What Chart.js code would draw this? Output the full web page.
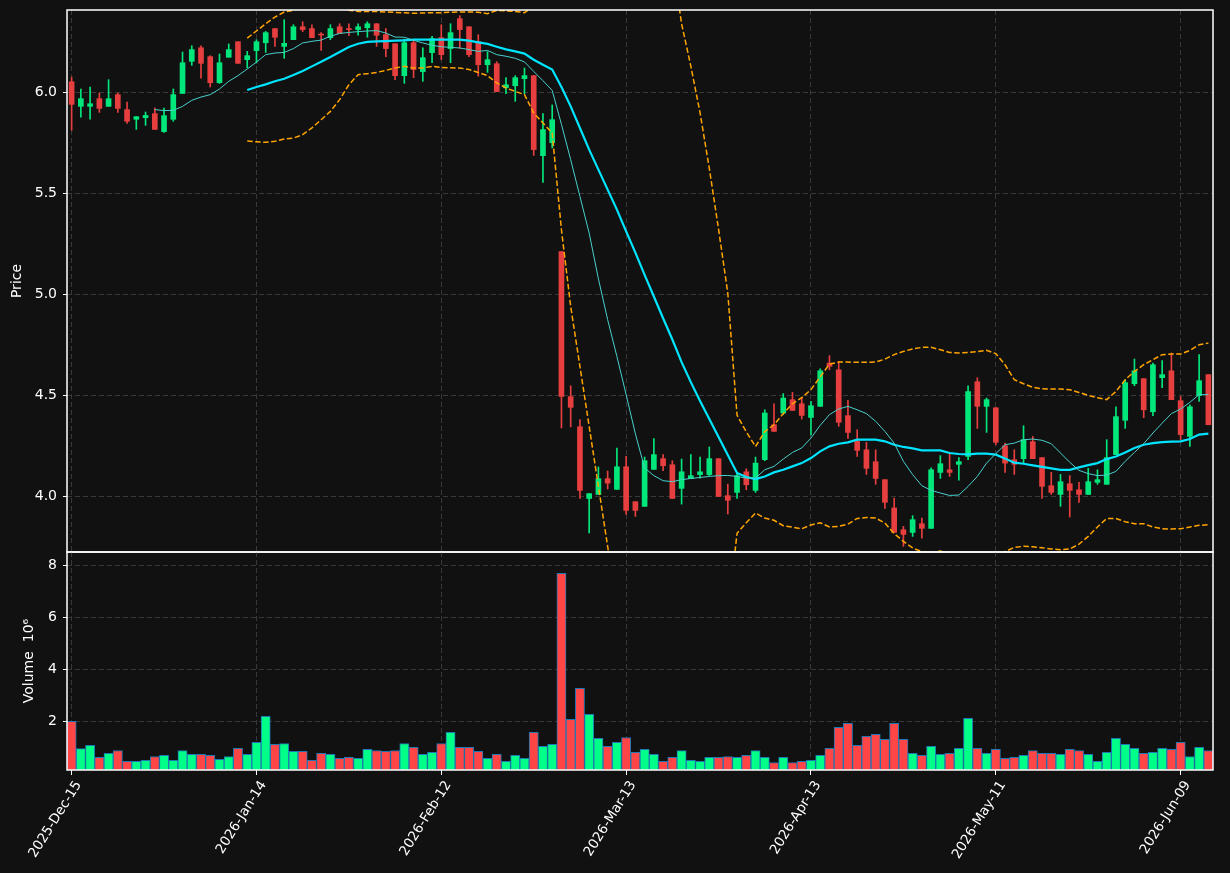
<!DOCTYPE html>
<html>
<head>
<meta charset="utf-8">
<script src="https://cdn.jsdelivr.net/npm/chart.js@4.4.1/dist/chart.umd.min.js"></script>
<style>
  html, body { margin: 0; padding: 0; background: #111111; }
  #wrap { position: relative; width: 1230px; height: 873px; overflow: hidden; }
  canvas { position: absolute; left: 0; }
  #priceChart { top: 0; }
  #volChart { top: 540px; }
</style>
</head>
<body>
<div id="wrap">
  <canvas id="priceChart" width="1230" height="553"></canvas>
  <canvas id="volChart" width="1230" height="333"></canvas>
</div>
<script>
// x axis: bar index, labelled every 20 sessions
const tickIdx = [0, 20, 40, 60, 80, 100, 120];
const tickLabels = ['2025-Dec-15', '2026-Jan-14', '2026-Feb-12', '2026-Mar-13', '2026-Apr-13', '2026-May-11', '2026-Jun-09'];
const priceTicks = [4.0, 4.5, 5.0, 5.5, 6.0];
const volumeTicks = [2, 4, 6, 8];

// OHLC
const opens = [6.051,5.929,5.929,5.967,5.929,5.987,5.913,5.865,5.873,5.893,
  5.804,5.865,5.993,6.152,6.219,6.175,6.046,6.172,6.249,6.160,
  6.205,6.244,6.314,6.226,6.259,6.323,6.314,6.287,6.269,6.323,
  6.314,6.309,6.318,6.338,6.284,6.239,6.081,6.244,6.101,6.195,
  6.269,6.215,6.363,6.323,6.249,6.135,6.140,6.021,6.031,6.066,
  6.081,5.685,5.749,5.210,4.492,4.343,3.988,4.008,4.086,4.033,
  4.145,3.972,3.949,4.132,4.185,4.155,4.038,4.086,4.106,4.106,
  4.185,4.002,4.018,4.120,4.028,4.180,4.353,4.411,4.477,4.457,
  4.389,4.444,4.658,4.625,4.398,4.271,4.229,4.170,4.081,3.941,
  3.833,3.820,3.863,3.840,4.117,4.130,4.157,4.196,4.566,4.444,
  4.437,4.249,4.180,4.185,4.269,4.190,4.051,4.008,4.061,4.031,
  4.008,4.068,4.058,4.205,4.375,4.556,4.581,4.417,4.586,4.620,
  4.472,4.295,4.497,4.601];
const highs = [6.074,6.015,6.025,5.995,6.061,5.995,5.950,5.878,5.901,5.921,
  5.921,6.015,6.198,6.229,6.229,6.180,6.188,6.238,6.249,6.201,
  6.259,6.300,6.314,6.358,6.333,6.348,6.333,6.294,6.333,6.338,
  6.338,6.338,6.348,6.338,6.314,6.239,6.262,6.259,6.219,6.276,
  6.333,6.338,6.378,6.323,6.284,6.200,6.150,6.071,6.081,6.119,
  6.081,5.893,5.936,5.210,4.546,4.378,4.012,4.144,4.124,4.238,
  4.196,3.972,4.193,4.284,4.205,4.175,4.183,4.205,4.193,4.243,
  4.185,4.059,4.114,4.135,4.193,4.427,4.457,4.507,4.513,4.485,
  4.469,4.630,4.695,4.667,4.474,4.328,4.266,4.229,4.081,3.990,
  3.850,3.903,3.891,4.140,4.200,4.210,4.190,4.546,4.586,4.485,
  4.437,4.262,4.229,4.348,4.295,4.190,4.117,4.107,4.101,4.068,
  4.137,4.130,4.279,4.441,4.576,4.678,4.581,4.658,4.670,4.708,
  4.493,4.452,4.700,4.601];
const lows = [5.810,5.876,5.866,5.899,5.929,5.899,5.845,5.815,5.835,5.815,
  5.800,5.855,5.993,6.132,6.068,6.025,6.043,6.172,6.142,6.120,
  6.144,6.196,6.226,6.167,6.259,6.299,6.269,6.206,6.259,6.289,
  6.279,6.281,6.271,6.226,6.175,6.061,6.043,6.071,6.053,6.145,
  6.160,6.145,6.216,6.175,6.078,6.097,6.002,5.992,5.954,5.992,
  5.686,5.553,5.723,4.337,4.342,3.988,3.817,4.008,4.035,4.033,
  3.909,3.899,3.949,4.132,4.125,3.988,3.960,4.086,4.089,4.101,
  3.998,3.911,3.988,4.031,4.018,4.175,4.320,4.403,4.424,4.381,
  4.302,4.444,4.625,4.345,4.285,4.196,4.107,4.058,3.939,3.820,
  3.751,3.800,3.792,3.840,4.087,4.097,4.078,4.180,4.335,4.315,
  4.254,4.117,4.107,4.160,4.185,3.988,4.008,3.949,3.896,3.969,
  4.008,4.058,4.058,4.205,4.335,4.546,4.388,4.398,4.536,4.477,
  4.279,4.246,4.469,4.353];
const closes = [5.939,5.967,5.942,5.919,5.967,5.919,5.855,5.878,5.884,5.815,
  5.883,5.987,6.145,6.210,6.142,6.046,6.145,6.210,6.142,6.180,
  6.249,6.294,6.271,6.241,6.323,6.309,6.269,6.282,6.314,6.289,
  6.309,6.323,6.338,6.281,6.215,6.081,6.244,6.111,6.170,6.264,
  6.185,6.294,6.309,6.185,6.135,6.160,6.002,6.036,6.071,6.081,
  5.715,5.814,5.863,4.493,4.439,4.028,4.012,4.086,4.064,4.145,
  3.929,3.929,4.175,4.205,4.150,3.988,4.120,4.101,4.120,4.185,
  3.998,3.979,4.101,4.056,4.163,4.411,4.320,4.485,4.424,4.399,
  4.447,4.620,4.642,4.365,4.315,4.226,4.137,4.087,3.969,3.820,
  3.810,3.883,3.840,4.130,4.160,4.117,4.170,4.517,4.444,4.477,
  4.266,4.163,4.157,4.279,4.185,4.048,4.018,4.071,4.028,4.008,
  4.071,4.081,4.190,4.393,4.561,4.620,4.427,4.650,4.601,4.477,
  4.304,4.442,4.571,4.353];
// volume in millions
const volumes = [2.00,0.95,1.08,0.62,0.77,0.88,0.46,0.46,0.50,0.65,
  0.69,0.50,0.88,0.73,0.73,0.69,0.54,0.65,0.96,0.73,
  1.19,2.19,1.12,1.15,0.85,0.85,0.50,0.77,0.73,0.58,
  0.62,0.58,0.92,0.88,0.85,0.88,1.15,1.00,0.73,0.81,
  1.15,1.58,1.00,1.00,0.85,0.58,0.73,0.46,0.69,0.58,
  1.58,1.04,1.12,7.69,2.08,3.27,2.27,1.35,1.04,1.19,
  1.38,0.81,0.92,0.73,0.46,0.62,0.88,0.50,0.46,0.62,
  0.62,0.65,0.62,0.69,0.88,0.62,0.42,0.62,0.42,0.46,
  0.50,0.69,0.96,1.77,1.92,1.08,1.42,1.50,1.31,1.92,
  1.31,0.77,0.69,1.04,0.73,0.77,0.96,2.12,0.96,0.77,
  0.92,0.58,0.62,0.69,0.88,0.77,0.77,0.73,0.92,0.88,
  0.73,0.46,0.81,1.35,1.12,0.96,0.77,0.81,0.96,0.92,
  1.19,0.65,1.00,0.88];

// overlay lines (first value sits at the given bar)
const ma10Start = 9;
const ma10 = [5.913,5.908,5.909,5.929,5.959,5.975,5.987,6.015,6.053,6.081,
  6.114,6.148,6.185,6.193,6.196,6.215,6.243,6.251,6.257,6.276,
  6.290,6.295,6.299,6.302,6.304,6.292,6.272,6.271,6.256,6.243,
  6.231,6.224,6.221,6.218,6.210,6.201,6.206,6.185,6.177,6.167,
  6.149,6.102,6.056,6.008,5.840,5.665,5.483,5.302,5.075,4.873,
  4.691,4.502,4.308,4.139,4.101,4.076,4.071,4.081,4.087,4.092,
  4.097,4.101,4.102,4.097,4.089,4.089,4.130,4.147,4.183,4.216,
  4.238,4.287,4.350,4.403,4.431,4.444,4.427,4.408,4.370,4.320,
  4.262,4.172,4.106,4.051,4.028,4.015,4.003,4.005,4.048,4.097,
  4.163,4.210,4.254,4.262,4.279,4.282,4.276,4.259,4.213,4.167,
  4.127,4.111,4.101,4.104,4.122,4.172,4.216,4.259,4.312,4.361,
  4.408,4.431,4.464,4.502,4.502];
const ma20Start = 19;
const ma20 = [6.010,6.025,6.038,6.053,6.066,6.084,6.104,6.127,6.150,6.173,
  6.198,6.223,6.239,6.248,6.251,6.252,6.254,6.256,6.259,6.259,
  6.259,6.259,6.259,6.259,6.254,6.246,6.238,6.224,6.211,6.201,
  6.190,6.160,6.135,6.111,6.025,5.929,5.822,5.715,5.616,5.517,
  5.418,5.310,5.205,5.095,4.988,4.880,4.775,4.663,4.564,4.470,
  4.381,4.292,4.203,4.114,4.094,4.084,4.097,4.117,4.130,4.147,
  4.163,4.188,4.221,4.246,4.259,4.266,4.279,4.279,4.279,4.271,
  4.254,4.243,4.236,4.226,4.226,4.226,4.213,4.208,4.206,4.210,
  4.210,4.205,4.186,4.165,4.160,4.152,4.144,4.137,4.130,4.130,
  4.142,4.153,4.163,4.183,4.196,4.216,4.238,4.254,4.262,4.267,
  4.269,4.271,4.282,4.304,4.309];
const bbUpper = [6.267,6.302,6.338,6.371,6.396,6.405,6.419,6.432,6.437,6.442,
  6.434,6.405,6.399,6.399,6.399,6.396,6.394,6.392,6.390,6.391,
  6.393,6.393,6.395,6.396,6.396,6.395,6.388,6.404,6.402,6.399,
  6.393,6.424,6.423,6.425,6.732,6.919,7.002,7.085,7.184,7.283,
  7.390,7.420,7.400,7.280,7.120,6.910,6.650,6.338,6.128,5.897,
  5.622,5.321,5.005,4.400,4.318,4.245,4.319,4.353,4.408,4.457,
  4.487,4.527,4.590,4.653,4.663,4.663,4.662,4.662,4.663,4.678,
  4.700,4.716,4.728,4.736,4.736,4.724,4.711,4.708,4.711,4.715,
  4.721,4.705,4.650,4.576,4.556,4.538,4.531,4.530,4.530,4.526,
  4.513,4.498,4.487,4.477,4.518,4.576,4.617,4.650,4.675,4.700,
  4.703,4.703,4.721,4.749,4.757];
const bbLower = [5.757,5.754,5.751,5.756,5.767,5.772,5.789,5.822,5.863,5.904,
  5.962,6.036,6.086,6.091,6.097,6.107,6.119,6.127,6.119,6.119,
  6.127,6.122,6.120,6.119,6.111,6.097,6.081,6.045,6.020,6.003,
  5.987,5.896,5.847,5.797,5.318,4.939,4.642,4.345,4.048,3.751,
  3.450,3.200,3.000,2.900,2.850,2.850,2.900,2.988,3.000,3.043,
  3.140,3.263,3.400,3.816,3.868,3.916,3.891,3.880,3.853,3.846,
  3.838,3.857,3.868,3.847,3.850,3.861,3.889,3.894,3.891,3.866,
  3.814,3.776,3.743,3.724,3.716,3.728,3.715,3.708,3.701,3.705,
  3.699,3.705,3.725,3.746,3.751,3.749,3.744,3.738,3.734,3.738,
  3.762,3.800,3.847,3.889,3.889,3.873,3.863,3.863,3.847,3.838,
  3.837,3.838,3.847,3.855,3.858];

Chart.defaults.font.family = "'DejaVu Sans', sans-serif";
Chart.defaults.font.size = 14;
Chart.defaults.color = '#ffffff';

const upCandle = '#02e77c', downCandle = '#e73f3f';
const upVol = '#00ff88', downVol = '#ff4545';
const gridColor = '#383838';

const idx = closes.map((c, i) => i);
const isUp = idx.map(i => closes[i] >= opens[i]);
const toPoints = (arr, start) => arr.map((v, k) => ({ x: start + k, y: v }));

// pin the plot box so both panels share the same left/right edges
function fixY(scale) {
  scale.width = 67;
  scale.paddingTop = 0;
  scale.paddingBottom = 0;
}

const frame = {
  id: 'frame',
  afterDraw(chart) {
    const { ctx, chartArea: a } = chart;
    ctx.save();
    ctx.strokeStyle = '#ffffff';
    ctx.lineWidth = 1.5;
    ctx.strokeRect(a.left, a.top, a.right - a.left, a.bottom - a.top);
    ctx.restore();
  }
};

const gridOpts = { color: gridColor, lineWidth: 1, offset: false };
const dashedNoBorder = { display: false, dash: [5, 3] };
const xTicksOnly = s => { s.ticks = tickIdx.map(v => ({ value: v })); };

new Chart(document.getElementById('priceChart'), {
  type: 'bar',
  data: {
    labels: idx,
    datasets: [
      {
        type: 'line', data: toPoints(ma10, ma10Start),
        borderColor: '#48d1cc', borderWidth: 1, pointRadius: 0, order: 0
      },
      {
        type: 'line', data: toPoints(ma20, ma20Start),
        borderColor: '#00e5ff', borderWidth: 2.2, pointRadius: 0, order: 0
      },
      {
        type: 'line', data: toPoints(bbUpper, ma20Start),
        borderColor: '#ffa500', borderWidth: 1.5, borderDash: [5.5, 2.5], pointRadius: 0, order: 0
      },
      {
        type: 'line', data: toPoints(bbLower, ma20Start),
        borderColor: '#ffa500', borderWidth: 1.5, borderDash: [5.5, 2.5], pointRadius: 0, order: 0
      },
      {
        // candle bodies
        data: idx.map(i => ({ x: i, y: [opens[i], closes[i]] })),
        backgroundColor: idx.map(i => isUp[i] ? upCandle : downCandle),
        barThickness: 5, minBarLength: 1, grouped: false, order: 1
      },
      {
        // wicks
        data: idx.map(i => ({ x: i, y: [lows[i], highs[i]] })),
        backgroundColor: idx.map(i => isUp[i] ? upCandle : downCandle),
        barThickness: 1, grouped: false, order: 2
      }
    ]
  },
  options: {
    responsive: false,
    animation: false,
    devicePixelRatio: 1,
    layout: { padding: { top: 10, right: 17, bottom: 1, left: 0 } },
    plugins: { legend: { display: false }, tooltip: { enabled: false } },
    scales: {
      x: {
        type: 'category', offset: true,
        afterBuildTicks: xTicksOnly,
        afterFit: s => { s.height = 0; s.paddingLeft = 0; s.paddingRight = 0; },
        ticks: { display: false, autoSkip: false },
        grid: { ...gridOpts, drawTicks: false },
        border: dashedNoBorder
      },
      y: {
        min: 3.723, max: 6.406,
        afterBuildTicks: s => { s.ticks = priceTicks.map(v => ({ value: v })); },
        afterFit: fixY,
        ticks: { padding: 6, callback: v => v.toFixed(1) },
        grid: { ...gridOpts, tickLength: 4, tickColor: '#ffffff', tickBorderDash: [] },
        border: dashedNoBorder,
        title: { display: true, text: 'Price', padding: { top: 9, bottom: 0 } }
      }
    }
  },
  plugins: [frame]
});

new Chart(document.getElementById('volChart'), {
  type: 'bar',
  data: {
    labels: idx,
    datasets: [{
      data: idx.map(i => ({ x: i, y: volumes[i] })),
      backgroundColor: idx.map(i => isUp[i] ? upVol : downVol),
      borderColor: '#1f77b4',
      borderWidth: 1,
      borderSkipped: false,
      barPercentage: 1,
      categoryPercentage: 1,
      grouped: false
    }]
  },
  options: {
    responsive: false,
    animation: false,
    devicePixelRatio: 1,
    layout: { padding: { top: 12, right: 17, bottom: 0, left: 0 } },
    plugins: { legend: { display: false }, tooltip: { enabled: false } },
    scales: {
      x: {
        type: 'category', offset: true,
        afterBuildTicks: xTicksOnly,
        afterFit: s => { s.height = 103; s.paddingLeft = 0; s.paddingRight = 0; },
        ticks: {
          minRotation: 58, maxRotation: 58, autoSkip: false, padding: 3,
          labelOffset: 7, font: { size: 13.5 },
          callback: v => tickLabels[tickIdx.indexOf(v)]
        },
        grid: { ...gridOpts, tickLength: 5, tickColor: '#ffffff', tickBorderDash: [] },
        border: dashedNoBorder
      },
      y: {
        min: 0.13, max: 8.51,
        afterBuildTicks: s => { s.ticks = volumeTicks.map(v => ({ value: v })); },
        afterFit: fixY,
        ticks: { padding: 6 },
        grid: { ...gridOpts, tickLength: 4, tickColor: '#ffffff', tickBorderDash: [] },
        border: dashedNoBorder,
        title: { display: true, text: 'Volume  10\u2076', padding: { top: 21, bottom: 0 } }
      }
    }
  },
  plugins: [frame]
});
</script>
</body>
</html>
